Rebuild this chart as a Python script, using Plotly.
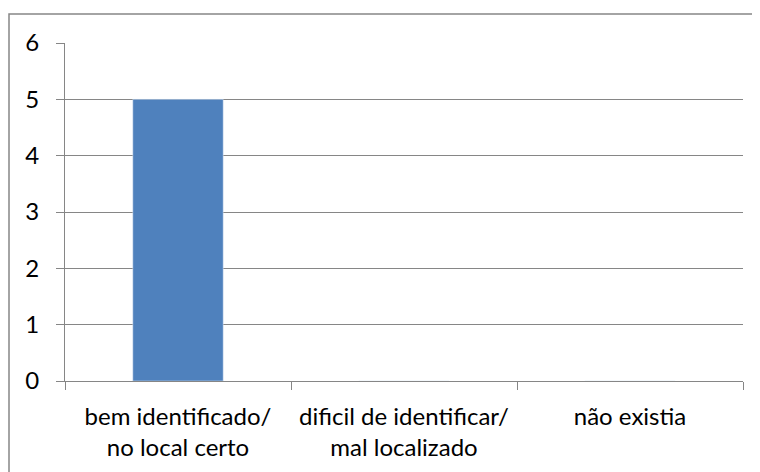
import plotly.graph_objects as go

categories = ["bem identificado/<br>no local certo",
              "dificil de identificar/<br>mal localizado",
              "não existia"]
values = [5, 0, 0]

# page has an 8px body margin, so figure coords = screen coords - 8
W, H = 752, 464
L, R, T, B = 57, 17, 35, 91
pw, ph = W - L - R, H - T - B

fig = go.Figure(go.Bar(x=categories, y=values, marker_color="#4F81BD",
                       width=0.4))

fig.update_xaxes(showline=True, linecolor="#868686", linewidth=1,
                 ticks="outside", tickson="boundaries", ticklen=8,
                 tickcolor="#868686", showgrid=False, ticklabelstandoff=14)
fig.update_yaxes(range=[0, 6], dtick=1, showline=True, linecolor="#868686",
                 linewidth=1, ticks="outside", ticklen=8, tickcolor="#868686",
                 gridcolor="#868686", gridwidth=1, zeroline=False,
                 ticklabelstandoff=12)

# outer chart border
fig.add_shape(type="rect", xref="paper", yref="paper",
              x0=(1 - L) / pw, x1=(W + 5 - L) / pw,
              y0=-(B + 5) / ph, y1=1 + (T - 6) / ph,
              line=dict(color="#868686", width=1.5), layer="below")

fig.update_layout(width=W, height=H, margin=dict(l=L, r=R, t=T, b=B),
                  plot_bgcolor="white", paper_bgcolor="white",
                  font=dict(family="Lato", size=24, color="black"),
                  bargap=0.6, showlegend=False)

fig.write_html("out.html")
